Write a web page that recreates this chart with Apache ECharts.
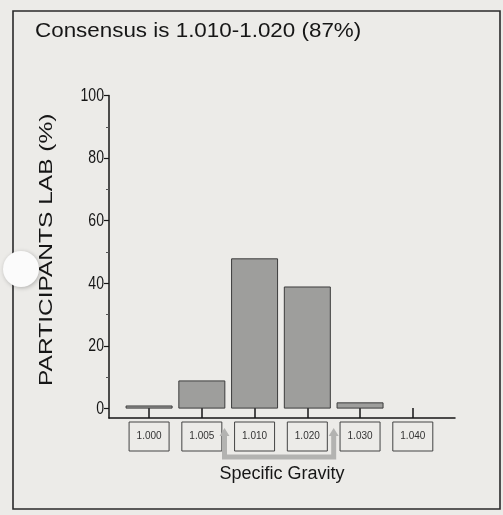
<!DOCTYPE html>
<html>
<head>
<meta charset="utf-8">
<script src="https://cdn.jsdelivr.net/npm/echarts@6/dist/echarts.min.js"></script>
<style>
  html, body { margin: 0; padding: 0; background: #ecebe8; }
  #chart { width: 503px; height: 515px; }
</style>
</head>
<body>
<div id="chart"></div>
<script>
// Specific gravity categories and share of participating labs (%)
const categories = ['1.000', '1.005', '1.010', '1.020', '1.030', '1.040'];
const participants = [1, 9, 48, 39, 2, 0];
const yTicks = [0, 20, 40, 60, 80, 100];
const yMinorTicks = [10, 30, 50, 70, 90];
// consensus range (indices into categories)
const consensus = [2, 3];
const consensusText = 'Consensus is 1.010-1.020 (87%)';
const yTitle = 'PARTICIPANTS LAB (%)';
const xTitle = 'Specific Gravity';

const font = '"Liberation Sans", Arial, sans-serif';
const ink = '#161616';

const chart = echarts.init(document.getElementById('chart'), null, { renderer: 'canvas' });

const idx = categories.map((_, i) => i);

chart.setOption({
  backgroundColor: '#ecebe8',
  animation: false,
  grid: { left: 109, right: 48, top: 95.5, bottom: 97 },
  xAxis: {
    type: 'value',
    min: -0.76, max: 5.8,
    splitLine: { show: false },
    axisLine: { show: true, onZero: false, lineStyle: { color: ink, width: 1.5 } },
    axisTick: {
      show: true, inside: true, length: 10,
      customValues: idx,
      lineStyle: { color: ink, width: 1.5 }
    },
    axisLabel: {
      customValues: idx,
      formatter: v => categories[Math.round(v)],
      fontFamily: font, fontSize: 10, color: '#333',
      borderColor: '#444', borderWidth: 1,
      width: 40, lineHeight: 13, padding: [8, 0, 8, 0], align: 'center',
      margin: 4
    },
    name: xTitle,
    nameLocation: 'middle',
    nameGap: 47,
    nameTextStyle: { fontFamily: font, fontSize: 18, color: ink }
  },
  yAxis: [{
    type: 'value',
    min: -3, max: 100,
    splitLine: { show: false },
    axisLine: { show: true, onZero: false, lineStyle: { color: ink, width: 1.5 } },
    axisTick: {
      show: true, length: 5, customValues: yTicks,
      lineStyle: { color: ink, width: 1.2 }
    },
    axisLabel: { show: false }
  }, {
    type: 'value',
    min: -3, max: 100,
    position: 'left',
    splitLine: { show: false },
    axisLine: { show: false, onZero: false },
    axisLabel: { show: false },
    axisTick: {
      show: true, length: 3, customValues: yMinorTicks,
      lineStyle: { color: '#555', width: 1 }
    }
  }],
  series: [{
    type: 'bar',
    barWidth: 47,
    // empty categories get no outline
    data: participants.map((v, i) => v > 0 ? [i, v] : { value: [i, v], itemStyle: { borderWidth: 0, opacity: 0 } }),
    itemStyle: { color: '#9e9e9c', borderColor: '#3c3c3c', borderWidth: 1 },
    silent: true
  }]
});

// Texts (stretched type), consensus bracket, frame and a punched hole
function drawOverlay() {
  const xl = chart.convertToPixel({ xAxisIndex: 0 }, consensus[0] - 0.57);
  const xr = chart.convertToPixel({ xAxisIndex: 0 }, consensus[1] + 0.5);
  const axisX = chart.convertToPixel({ xAxisIndex: 0 }, -0.76);
  const axisY = chart.convertToPixel({ yAxisIndex: 0 }, -3);
  const yMid = (axisY + chart.convertToPixel({ yAxisIndex: 0 }, 100)) / 2;
  const top = axisY + 12, bottom = axisY + 39;
  const grey = '#b3b3b1';

  const tickLabels = yTicks.map(v => ({
    type: 'text', z: 10,
    x: axisX - 5, y: chart.convertToPixel({ yAxisIndex: 0 }, v),
    scaleX: 0.74,
    style: { text: String(v), font: '19px ' + font, fill: ink, textAlign: 'right', textVerticalAlign: 'middle' }
  }));

  chart.setOption({
    graphic: [
      {
        type: 'text', z: 10, x: 35, y: 21, scaleX: 1.12,
        style: { text: consensusText, font: '20px ' + font, fill: ink, textAlign: 'left', textVerticalAlign: 'top' }
      },
      {
        type: 'text', z: 10, x: 47, y: yMid - 7, rotation: Math.PI / 2, scaleX: 1.29,
        style: { text: yTitle, font: '19px ' + font, fill: ink, textAlign: 'center', textVerticalAlign: 'middle' }
      },
      ...tickLabels,
      {
        type: 'polyline', z: 1,
        shape: { points: [[xl, top + 4], [xl, bottom], [xr, bottom], [xr, top + 4]] },
        style: { stroke: grey, lineWidth: 5, fill: null }
      },
      {
        type: 'polygon', z: 1,
        shape: { points: [[xl - 5, top + 6], [xl, top - 2], [xl + 5, top + 6]] },
        style: { fill: grey }
      },
      {
        type: 'polygon', z: 1,
        shape: { points: [[xr - 5, top + 6], [xr, top - 2], [xr + 5, top + 6]] },
        style: { fill: grey }
      },
      {
        type: 'rect', z: 0,
        shape: { x: 13, y: 11, width: 487, height: 498 },
        style: { stroke: '#2a2a2a', lineWidth: 1.6, fill: null }
      },
      {
        type: 'circle', z: 100,
        shape: { cx: 21, cy: 269, r: 18 },
        style: { fill: '#fbfbfb', shadowBlur: 4, shadowColor: 'rgba(0,0,0,0.25)', shadowOffsetX: 1, shadowOffsetY: 1 }
      }
    ]
  });
}
drawOverlay();
</script>
</body>
</html>
